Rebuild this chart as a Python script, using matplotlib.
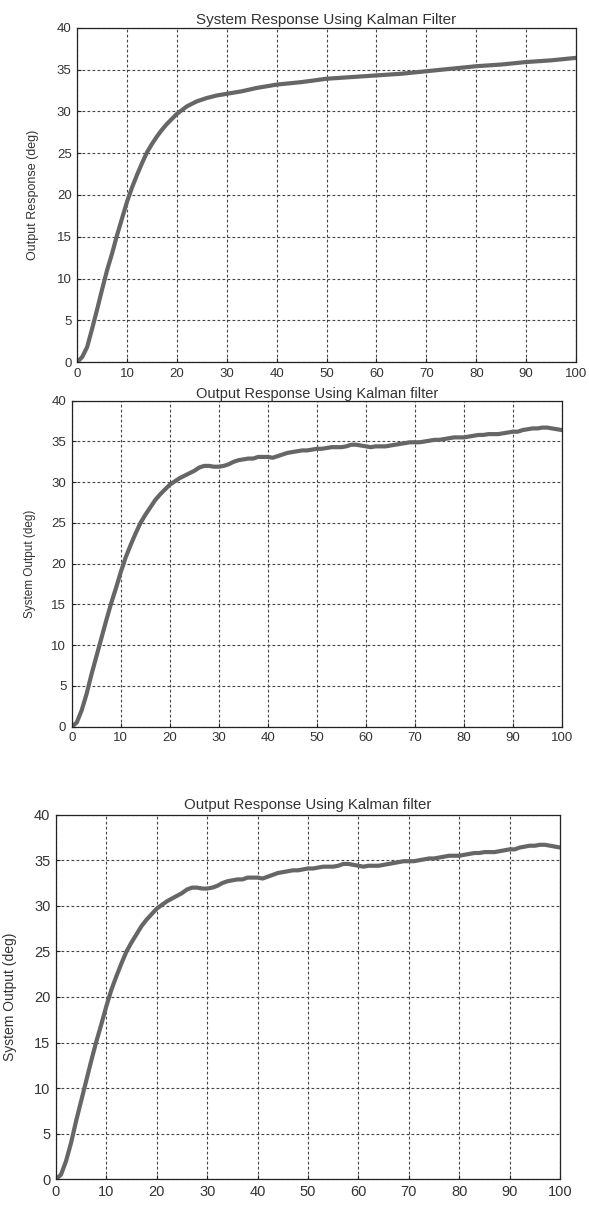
import numpy as np
import matplotlib
matplotlib.use("Agg")
import matplotlib.pyplot as plt

plt.rcParams['font.family'] = ['Liberation Sans', 'DejaVu Sans']

# smooth estimate, first figure
x_smooth = [0, 1, 2, 3, 4, 5, 6, 7, 8, 9, 10, 11, 12, 13, 14, 15, 16, 17, 18, 19, 20,
            22, 24, 26, 28, 30, 33, 36, 40, 45, 50, 55, 60, 65, 70, 75, 80, 85, 90, 95, 100]
y_smooth = [0, 0.6, 1.8, 4.0, 6.3, 8.7, 11.0, 13.0, 15.2, 17.2, 19.2, 20.9, 22.4, 23.8, 25.1,
            26.1, 27.0, 27.8, 28.5, 29.1, 29.7, 30.6, 31.2, 31.6, 31.9, 32.1, 32.4, 32.8, 33.2,
            33.5, 33.9, 34.1, 34.3, 34.5, 34.8, 35.1, 35.4, 35.6, 35.9, 36.1, 36.4]

# noisier estimate, second and third figure
x_kf = list(range(0, 101))
y_kf = [0, 0.5, 2.0, 4.0, 6.4, 8.6, 10.8, 13.0, 15.1, 17.0, 19.0, 20.8, 22.3, 23.7, 25.0,
        26.0, 26.9, 27.8, 28.5, 29.1, 29.7, 30.1, 30.5, 30.8, 31.1, 31.4, 31.8, 32.0, 32.0,
        31.9, 31.9, 32.0, 32.2, 32.5, 32.7, 32.8, 32.9, 32.9, 33.1, 33.1, 33.1, 33.0, 33.2,
        33.4, 33.6, 33.7, 33.8, 33.9, 33.9, 34.0, 34.1, 34.1, 34.2, 34.3, 34.3, 34.3, 34.4,
        34.6, 34.6, 34.5, 34.4, 34.3, 34.4, 34.4, 34.4, 34.5, 34.6, 34.7, 34.8, 34.9, 34.9,
        34.9, 35.0, 35.1, 35.2, 35.2, 35.3, 35.4, 35.5, 35.5, 35.5, 35.6, 35.7, 35.8, 35.8,
        35.9, 35.9, 35.9, 36.0, 36.1, 36.2, 36.2, 36.4, 36.5, 36.6, 36.6, 36.7, 36.7, 36.6,
        36.5, 36.4]

x_ticks = list(range(0, 101, 10))
y_ticks = list(range(0, 41, 5))

panels = [
    # rect, title, ylabel, data, tick size, title size, label size, ylabel x, title pad
    ([0.131, 0.700, 0.847, 0.277], 'System Response Using Kalman Filter', 'Output Response (deg)',
     (x_smooth, y_smooth), 9.5, 11, 9, -0.076, 3),
    ([0.122, 0.398, 0.832, 0.270], 'Output Response Using Kalman filter', 'System Output (deg)',
     (x_kf, y_kf), 9.5, 10.5, 8.5, -0.073, 2),
    ([0.095, 0.023, 0.856, 0.302], 'Output Response Using Kalman filter', 'System Output (deg)',
     (x_kf, y_kf), 10.5, 10.8, 10, -0.077, 4),
]


def main():
    fig = plt.figure(figsize=(5.89, 12.07), dpi=100)

    for rect, title, ylabel, (xs, ys), tfs, hfs, lfs, ylx, pad in panels:
        ax = fig.add_axes(rect)
        ax.plot(xs, ys, color='#666666', linewidth=3.0, solid_capstyle='round')

        ax.set_xlim(0, 100)
        ax.set_ylim(0, 40)
        ax.set_xticks(x_ticks)
        ax.set_yticks(y_ticks)
        ax.grid(True, linestyle=(0, (2.5, 2)), color='#444444', linewidth=0.8)
        ax.tick_params(direction='in', length=3, labelsize=tfs, colors='#222222',
                       labelcolor='#333333', pad=4)
        for sp in ax.spines.values():
            sp.set_color('#222222')
            sp.set_linewidth(0.9)

        ax.set_title(title, fontsize=hfs, color='#333333', pad=pad)
        ax.set_ylabel(ylabel, fontsize=lfs, color='#333333')
        ax.yaxis.set_label_coords(ylx, 0.5)

    fig.savefig('out.png', dpi=100)

    return


if __name__ == '__main__':
    main()
